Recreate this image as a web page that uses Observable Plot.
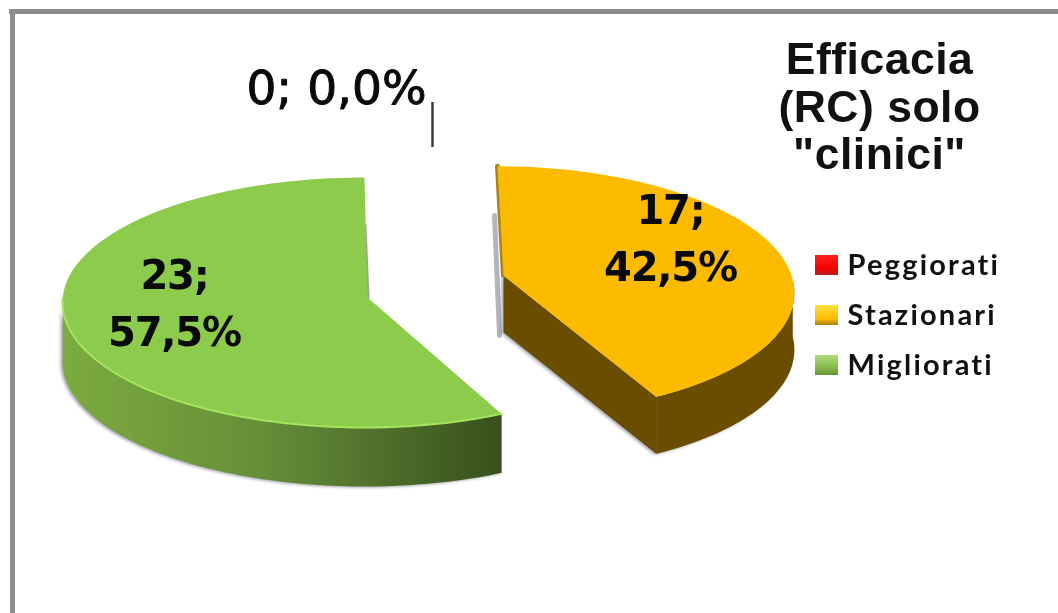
<!DOCTYPE html>
<html>
<head>
<meta charset="utf-8">
<script src="https://cdn.jsdelivr.net/npm/d3@7"></script>
<script src="https://cdn.jsdelivr.net/npm/@observablehq/plot@0.6"></script>
<style>
html,body{margin:0;padding:0;background:#fff;overflow:hidden}
svg{display:block;filter:blur(.6px)}
.wall{filter:drop-shadow(-1.5px 1.5px 1.5px rgba(60,60,80,.45))}
.lab{letter-spacing:-1.2px}
.leg{letter-spacing:2.2px}
.tit{letter-spacing:.5px}
</style>
</head>
<body>
<div id="chart"></div>
<script>
// Data
const categories = ["Peggiorati", "Stazionari", "Migliorati"];
const counts = [0, 17, 23];
const titleLines = ["Efficacia", "(RC) solo", "\"clinici\""];
const swatchFills = ["url(#swRed)", "url(#swOrange)", "url(#swGreen)"];

// Drawing geometry of the exploded, tilted pie
const total = d3.sum(counts);
const pct = v => (v / total * 100).toFixed(1).replace(".", ",") + "%";
const orange = {cx: 503, cy: 275, rx: 288, ry: 122, k: .117, s: -6.7, dir: 1, corner: [503, 275], depth: 57};
const green = {cx: 364, cy: 302, rx: 302, ry: 125, k: 0, s: 0, dir: -1, corner: [367, 297], depth: 59};
const rad = d => d * Math.PI / 180;
function project(p, deg) {
  const X = p.dir * Math.sin(rad(deg)), Y = Math.cos(rad(deg)), w = 1 + p.k * Y;
  return {x: p.cx + (p.rx * X + p.s * Y) / w, y: p.cy - p.ry * Y / w};
}
function arc(p, from, to) {
  const out = [];
  for (let a = from; a < to; a += 1.5) out.push(project(p, a));
  out.push(project(p, to));
  return out;
}
const drop = (pts, d) => pts.map(q => ({x: q.x, y: q.y + d}));
const sweep = v => v / total * 360;
const xy = {x: "x", y: "y"};
const pt = ([x, y]) => ({x, y});

const oEnd = sweep(counts[1]), gEnd = sweep(counts[2]);
const oCorner = pt(orange.corner), gCorner = pt(green.corner);
const oFace = [oCorner, ...arc(orange, 0, oEnd)];
const gFace = [gCorner, ...arc(green, 0, gEnd)];
const oTip = project(orange, oEnd);
const oWallArc = arc(orange, 92, oEnd);
const oWall = [...oWallArc, ...drop(oWallArc, orange.depth).reverse()];
const oWallCut = [oCorner, oTip, ...drop([oTip, oCorner], orange.depth)];
const gWallArc = arc(green, 88, gEnd);
const gWall = [...gWallArc, ...drop(gWallArc, green.depth).reverse()];

const labelFont = {fontFamily: "DejaVu Sans", fontWeight: 700, fontSize: 40, fill: "#0a0a0a", lineAnchor: "bottom", textAnchor: "middle", className: "lab"};
const legendFont = {fontFamily: "Lato", fontWeight: 700, fontSize: 29, fill: "#111", lineAnchor: "bottom", textAnchor: "start", className: "leg"};
const titleFont = {fontFamily: "Liberation Sans", fontWeight: 700, fontSize: 44.5, fill: "#111", lineAnchor: "bottom", textAnchor: "middle", className: "tit"};

const titleY = [73, 121, 168];
const legendY = [274, 324, 374];
const swatchY = [265, 315, 365];

const chart = Plot.plot({
  width: 1058, height: 613,
  margin: 0,
  style: {background: "#fff"},
  x: {domain: [0, 1058], range: [0, 1058], axis: null},
  y: {domain: [0, 613], range: [0, 613], axis: null},
  marks: [
    // frame
    Plot.ruleY([11], {x1: 9, x2: 1058, stroke: "#8a8a8a", strokeWidth: 5}),
    Plot.ruleX([12], {y1: 9, y2: 613, stroke: "#8e8e8e", strokeWidth: 5}),
    // leader of the empty slice
    Plot.ruleX([432], {y1: 102, y2: 147, stroke: "#3c3c3c", strokeWidth: 2.5}),
    Plot.text([counts[0]], {fontFamily: "DejaVu Sans", fontSize: 47, fill: "#0a0a0a", stroke: "#0a0a0a", strokeWidth: 1, lineAnchor: "bottom", textAnchor: "middle", x: () => 336, y: () => 103, text: d => `${d}; ${pct(d)}`}),
    // green slice
    Plot.line([{x: 364, y: 225}, gCorner], {...xy, stroke: "#9aa58e", strokeWidth: 4}),
    Plot.line(gWall, {...xy, fill: "url(#greenSide)", stroke: "none", className: "wall"}),
    Plot.line(gFace, {...xy, fill: "#8ccb4b", stroke: "none"}),
    Plot.line(gWallArc, {...xy, stroke: "#a6e35f", strokeWidth: 2}),
    // orange slice
    Plot.line([{x: 494, y: 215}, {x: 499, y: 335}], {...xy, stroke: "#b4b4bc", strokeWidth: 5}),
    Plot.line(oWall, {...xy, fill: "#6b4d00", stroke: "none", className: "wall"}),
    Plot.line(oWallCut, {...xy, fill: "#6b4d00", stroke: "none", className: "wall"}),
    Plot.line([arc(orange, 0, 0)[0], oCorner], {...xy, stroke: "#a88418", strokeWidth: 5}),
    Plot.line(oFace, {...xy, fill: "#fdbb00", stroke: "none"}),
    // slice labels
    Plot.text([counts[1]], {...labelFont, x: () => 670, y: () => 223, text: d => `${d};`}),
    Plot.text([counts[1]], {...labelFont, x: () => 670, y: () => 280, text: pct}),
    Plot.text([counts[2]], {...labelFont, x: () => 174, y: () => 288, text: d => `${d};`}),
    Plot.text([counts[2]], {...labelFont, x: () => 174, y: () => 345, text: pct}),
    // title
    Plot.text(titleLines, {...titleFont, x: () => 879, y: (d, i) => titleY[i], text: d => d}),
    // legend
    Plot.rect(categories, {
      x1: () => 815, x2: () => 838,
      y1: (d, i) => swatchY[i] - 10, y2: (d, i) => swatchY[i] + 10,
      fill: (d, i) => swatchFills[i]
    }),
    Plot.text(categories, {...legendFont, x: () => 847, y: (d, i) => legendY[i], text: d => d})
  ]
});

// Gradients used by the fills above
const defs = d3.select(chart).append("defs");
function grad(id, attrs, stops) {
  const g = defs.append("linearGradient").attr("id", id);
  Object.entries(attrs).forEach(([k, v]) => g.attr(k, v));
  stops.forEach(([o, c]) => g.append("stop").attr("offset", o).attr("stop-color", c));
}
grad("greenSide", {gradientUnits: "userSpaceOnUse", x1: 62, x2: 500, y1: 0, y2: 0},
  [[0, "#7cab3f"], [.45, "#668f38"], [.75, "#4d6d2a"], [1, "#37501c"]]);
const sw = {x1: 0, x2: 0, y1: 0, y2: 1};
grad("swRed", sw, [[0, "#ff2020"], [.7, "#f00000"], [1, "#b02020"]]);
grad("swOrange", sw, [[0, "#ffe040"], [.7, "#fdbb00"], [1, "#a87c10"]]);
grad("swGreen", sw, [[0, "#b0dc80"], [.6, "#86bc4a"], [1, "#669238"]]);

document.getElementById("chart").append(chart);
</script>
</body>
</html>
